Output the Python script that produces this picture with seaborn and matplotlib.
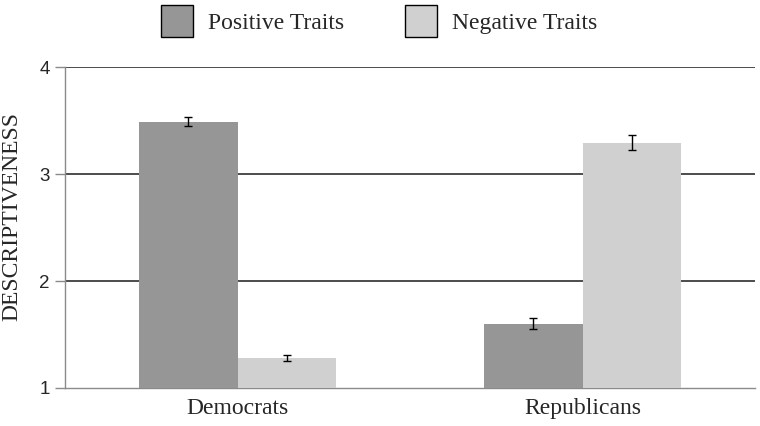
import matplotlib
matplotlib.use("Agg")
import matplotlib.pyplot as plt
import seaborn as sns
import pandas as pd
import numpy as np
from matplotlib.patches import Patch

parties = ["Democrats", "Republicans"]
traits = ["Positive Traits", "Negative Traits"]
positive_vals = [3.49, 1.60]
negative_vals = [1.28, 3.29]
positive_err = [0.04, 0.05]
negative_err = [0.025, 0.07]
yticks = [1, 2, 3, 4]
colors = ["#969696", "#d0d0d0"]

df = pd.DataFrame({
    "party": parties * 2,
    "trait": [traits[0]] * 2 + [traits[1]] * 2,
    "value": positive_vals + negative_vals,
    "err": positive_err + negative_err,
})

sns.set_theme(style="white")
plt.rcParams["font.family"] = ["Liberation Serif", "DejaVu Serif"]

fig = plt.figure(figsize=(7.6, 4.26), dpi=100)
ax = fig.add_axes([65/760, 1 - 388/426, 690/760, 321/426])

sns.barplot(data=df, x="party", y="value", hue="trait", palette=colors,
            order=parties, hue_order=traits, width=0.57, errorbar=None,
            saturation=1, ax=ax, legend=False, linewidth=0, zorder=3)

ax.set_ylim(1, 4)
ax.set_xlim(-0.5, 1.5)

# error bars at bar centres, matched by height
for p in ax.patches:
    xc = p.get_x() + p.get_width() / 2
    h = p.get_height()
    row = df.loc[np.isclose(df["value"], h)].iloc[0]
    ax.errorbar([xc], [row["value"]], yerr=[row["err"]], fmt="none", ecolor="black",
                elinewidth=1, capsize=3, capthick=1, zorder=4)

ax.set_yticks(yticks)
ax.set_yticklabels([str(t) for t in yticks], family="Liberation Sans", fontsize=13.5)
for y in [2, 3, 4]:
    ax.axhline(y, color="#2e2e2e", linewidth=1.2, zorder=1)
ax.tick_params(axis="y", length=7, width=1, color="#8a8a8a", left=True, pad=4)
ax.tick_params(axis="x", length=0, labelsize=17, pad=7)
for lab in ax.get_xticklabels():
    lab.set_family("Liberation Serif")

for s in ["top", "right"]:
    ax.spines[s].set_visible(False)
ax.spines["left"].set_color("#8a8a8a")
ax.spines["bottom"].set_color("#8a8a8a")
ax.spines["left"].set_linewidth(1)
ax.spines["bottom"].set_linewidth(1)

ax.set_xlabel("")
ax.set_ylabel("DESCRIPTIVENESS", fontsize=17, family="Liberation Serif")
ax.yaxis.set_label_coords(-0.062, 0.535)

handles = [Patch(facecolor=colors[0], edgecolor="black", linewidth=1),
           Patch(facecolor=colors[1], edgecolor="black", linewidth=1)]
fig.legend(handles, traits, loc="center", bbox_to_anchor=(379/760, 1 - 21/426), ncol=2,
           frameon=False, handlelength=1.36, handleheight=1.65,
           columnspacing=2.55, handletextpad=0.64,
           prop={"family": "Liberation Serif", "size": 17})

fig.savefig("out.png", dpi=100)
